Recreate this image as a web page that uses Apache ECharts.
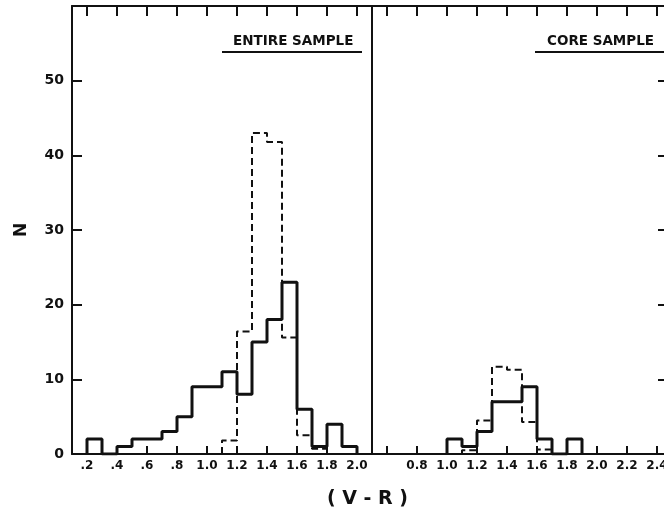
<!DOCTYPE html>
<html>
<head>
<meta charset="utf-8">
<style>
  html, body { margin: 0; padding: 0; background: #fff; }
  #chart { width: 664px; height: 516px; }
</style>
<script src="https://cdn.jsdelivr.net/npm/echarts@6/dist/echarts.min.js"></script>
</head>
<body>
<div id="chart"></div>
<script>
// (V-R) histograms, bins 0.1 wide, each list starts at the left edge given
var binWidth = 0.1;

var entireSolidStart = 0.2;
var entireSolid = [2, 0, 1, 2, 2, 3, 5, 9, 9, 11, 8, 15, 18, 23, 6, 1, 4, 1];
var entireDashStart = 1.1;
var entireDash = [1.8, 16.4, 43, 41.8, 15.6, 2.5, 0.7];

var coreSolidStart = 1.0;
var coreSolid = [2, 1, 3, 7, 7, 9, 2, 0, 2];
var coreDashStart = 1.1;
var coreDash = [0.5, 4.5, 11.7, 11.3, 4.3, 0.6];

// tick positions and labels
var entireTicks = [0.2, 0.4, 0.6, 0.8, 1.0, 1.2, 1.4, 1.6, 1.8, 2.0];
var entireTickLabels = ['.2', '.4', '.6', '.8', '1.0', '1.2', '1.4', '1.6', '1.8', '2.0'];
var coreTicks = [0.6, 0.8, 1.0, 1.2, 1.4, 1.6, 1.8, 2.0, 2.2, 2.4];
var coreTickLabels = ['', '0.8', '1.0', '1.2', '1.4', '1.6', '1.8', '2.0', '2.2', '2.4'];
var nTicks = [0, 10, 20, 30, 40, 50];

var ink = '#111';
var font = 'DejaVu Sans';

// turn bin counts into step points: up from 0, across each bin, back to 0
function steps(start, counts) {
  var pts = [[start, 0]];
  for (var i = 0; i < counts.length; i++) {
    pts.push([+(start + i * binWidth).toFixed(2), counts[i]]);
  }
  var end = +(start + counts.length * binWidth).toFixed(2);
  pts.push([end, counts[counts.length - 1]]);
  pts.push([end, 0]);
  return pts;
}

function labelFor(ticks, labels) {
  return function (v) {
    for (var i = 0; i < ticks.length; i++) {
      if (Math.abs(ticks[i] - v) < 1e-6) return labels[i];
    }
    return '';
  };
}

function xAxis(grid, min, max, ticks, labels, top) {
  return {
    type: 'value', gridIndex: grid, min: min, max: max,
    position: top ? 'top' : 'bottom',
    axisLine: { onZero: false, lineStyle: { color: ink, width: 2 } },
    axisTick: { show: true, inside: true, length: top ? 10 : 8, customValues: ticks,
                lineStyle: { color: ink, width: 2 } },
    axisLabel: { show: !top, customValues: ticks, formatter: labelFor(ticks, labels),
                 color: ink, fontFamily: font, fontWeight: 'bold', fontSize: 12, margin: 6 },
    splitLine: { show: false }
  };
}

function yAxis(grid, right, withTicks, withLabels) {
  var a = {
    type: 'value', gridIndex: grid, min: 0, max: 60, interval: 10,
    position: right ? 'right' : 'left',
    axisLine: { show: true, onZero: false, lineStyle: { color: ink, width: 2 } },
    axisTick: { show: withTicks, inside: true, length: right ? 14 : 10,
                lineStyle: { color: ink, width: 2 } },
    axisLabel: { show: withLabels, color: ink, fontFamily: font, fontWeight: 'bold', fontSize: 14, margin: 8,
                 formatter: function (v) { return nTicks.indexOf(v) >= 0 ? String(v) : ''; } },
    splitLine: { show: false }
  };
  if (withLabels) {
    a.name = 'N';
    a.nameLocation = 'middle';
    a.nameGap = 42;
    a.nameTextStyle = { color: ink, fontFamily: font, fontWeight: 'bold', fontSize: 17 };
  }
  return a;
}

function hist(name, data, xi, yi, dashed) {
  return {
    name: name, type: 'line', step: 'end', data: data,
    xAxisIndex: xi, yAxisIndex: yi, symbol: 'none', silent: true,
    lineStyle: { color: ink, width: dashed ? 2 : 3, type: dashed ? [7, 4] : 'solid' },
    z: dashed ? 3 : 4
  };
}

var chart = echarts.init(document.getElementById('chart'), null, { renderer: 'canvas' });

var option = {
  backgroundColor: '#fff',
  animation: false,
  grid: [
    { left: 72, top: 6, width: 300, height: 448, outerBoundsMode: 'none' },
    // the core panel runs past the right edge of the picture
    { left: 372, top: 6, width: 300, height: 448, outerBoundsMode: 'none' }
  ],
  xAxis: [
    xAxis(0, 0.1, 2.1, entireTicks, entireTickLabels, false),
    xAxis(0, 0.1, 2.1, entireTicks, entireTickLabels, true),
    xAxis(1, 0.5, 2.5, coreTicks, coreTickLabels, false),
    xAxis(1, 0.5, 2.5, coreTicks, coreTickLabels, true)
  ],
  yAxis: [
    yAxis(0, false, true, true),
    yAxis(0, true, false, false),
    yAxis(1, false, false, false),
    yAxis(1, true, true, false)
  ],
  graphic: [
    { type: 'text', left: 233, top: 34,
      style: { text: 'ENTIRE SAMPLE', fill: ink, font: 'bold 13.5px "DejaVu Sans"' } },
    { type: 'line', shape: { x1: 222, y1: 52, x2: 362, y2: 52 },
      style: { stroke: ink, lineWidth: 2 } },
    { type: 'text', left: 547, top: 34,
      style: { text: 'CORE SAMPLE', fill: ink, font: 'bold 13.5px "DejaVu Sans"' } },
    { type: 'line', shape: { x1: 535, y1: 52, x2: 672, y2: 52 },
      style: { stroke: ink, lineWidth: 2 } },
    { type: 'text', left: 327, top: 490,
      style: { text: '( V - R )', fill: ink, font: 'bold 19px "DejaVu Sans"' } }
  ],
  series: [
    hist('entire', steps(entireSolidStart, entireSolid), 0, 0, false),
    hist('entire model', steps(entireDashStart, entireDash), 0, 0, true),
    hist('core', steps(coreSolidStart, coreSolid), 2, 2, false),
    hist('core model', steps(coreDashStart, coreDash), 2, 2, true)
  ]
};

chart.setOption(option);
</script>
</body>
</html>
